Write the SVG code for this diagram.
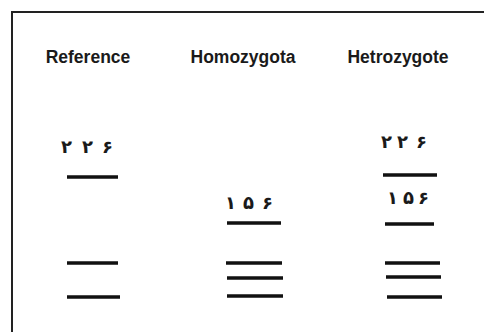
<svg xmlns="http://www.w3.org/2000/svg" width="484" height="332" viewBox="0 0 484 332">
<style>
.head{font-family:"Liberation Sans",Arial,sans-serif;font-weight:bold;font-size:17.5px;fill:#1a1a1a;text-anchor:middle}
.num{font-family:"DejaVu Sans",sans-serif;font-weight:bold;font-size:18px;fill:#1a1a1a}
.band{stroke:#111;stroke-width:3.5;fill:none}
</style>
<rect width="484" height="332" fill="#fff"/>
<path d="M12 332 V12 H484" fill="none" stroke="#222" stroke-width="2"/>
<g id="lane-reference">
<text class="head" x="88" y="63">Reference</text>
<text class="num" x="61 82 102" y="153">۲۲۶</text>
<line class="band" x1="67" y1="177" x2="118" y2="177"/>
<line class="band" x1="67" y1="263" x2="118" y2="263"/>
<line class="band" x1="67" y1="297" x2="120" y2="297"/>
</g>
<g id="lane-homozygote">
<text class="head" x="243" y="63">Homozygota</text>
<text class="num" x="225 243 262" y="209">۱۵۶</text>
<line class="band" x1="227" y1="223" x2="281" y2="223"/>
<line class="band" x1="226" y1="263" x2="282" y2="263"/>
<line class="band" x1="227" y1="278" x2="283" y2="278"/>
<line class="band" x1="227" y1="296" x2="283" y2="296"/>
</g>
<g id="lane-heterozygote">
<text class="head" x="398" y="63">Hetrozygote</text>
<text class="num" x="381 397 416" y="148">۲۲۶</text>
<line class="band" x1="383" y1="175" x2="437" y2="175"/>
<text class="num" x="387 403 418" y="204">۱۵۶</text>
<line class="band" x1="385" y1="224" x2="434" y2="224"/>
<line class="band" x1="385" y1="263" x2="440" y2="263"/>
<line class="band" x1="386" y1="277" x2="441" y2="277"/>
<line class="band" x1="387" y1="297" x2="442" y2="297"/>
</g>
</svg>
